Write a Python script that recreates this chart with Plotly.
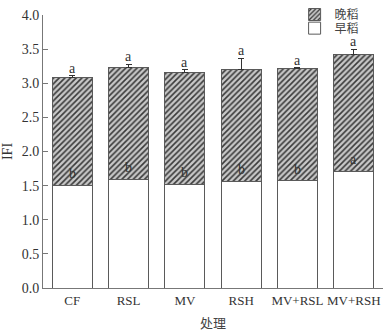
import plotly.graph_objects as go

categories = ["CF", "RSL", "MV", "RSH", "MV+RSL", "MV+RSH"]
early = [1.50, 1.59, 1.52, 1.56, 1.57, 1.70]
early_err = [0.04, 0.03, 0.04, 0.03, 0.03, 0.04]
late = [1.59, 1.64, 1.64, 1.64, 1.65, 1.72]
total_err = [0.02, 0.05, 0.04, 0.17, 0.01, 0.08]
early_letters = ["b", "b", "b", "b", "b", "a"]
total_letters = ["a", "a", "a", "a", "a", "a"]

serif = "Times New Roman, Liberation Serif, DejaVu Serif, serif"
cjk = "Noto Sans CJK SC"
edge = "#5a5a5a"

fig = go.Figure()
fig.add_trace(go.Bar(
    x=categories, y=early, name="早稻", legend="legend2",
    marker=dict(color="white", line=dict(color=edge, width=1)),
    error_y=dict(type="data", array=early_err, symmetric=False, arrayminus=[0]*6,
                 color="#333", thickness=1, width=3),
    width=0.71,
))
fig.add_trace(go.Bar(
    x=categories, y=late, name="晚稻", legend="legend",
    marker=dict(color="#c8c8c8", line=dict(color=edge, width=1),
                pattern=dict(shape="/", bgcolor="#c8c8c8", fgcolor="#3a3a3a",
                             size=4, solidity=0.4, fillmode="replace")),
    error_y=dict(type="data", array=total_err, symmetric=False, arrayminus=[0]*6,
                 color="#333", thickness=1, width=3),
    width=0.71,
))

for i, c in enumerate(categories):
    fig.add_annotation(x=c, y=early[i] + early_err[i], text=early_letters[i],
                       showarrow=False, yanchor="bottom", yshift=0,
                       font=dict(family=serif, size=14, color="#333"))
    fig.add_annotation(x=c, y=early[i] + late[i] + total_err[i], text=total_letters[i],
                       showarrow=False, yanchor="bottom", yshift=-2,
                       font=dict(family=serif, size=14, color="#333"))

legend_style = dict(xref="paper", x=0.74, xanchor="left", yref="container", yanchor="top",
                    font=dict(family=cjk, size=12, color="#444"),
                    bgcolor="rgba(0,0,0,0)", itemwidth=30)

fig.update_layout(
    barmode="stack",
    width=391, height=333,
    margin=dict(l=43, r=8, t=15, b=45, autoexpand=False),
    paper_bgcolor="white", plot_bgcolor="white",
    showlegend=True,
    legend=dict(y=1.007, **legend_style),
    legend2=dict(y=0.959, **legend_style),
    font=dict(family=serif, size=14, color="#333"),
    xaxis=dict(range=[-0.52, 5.52], showline=True, linecolor="#777", linewidth=1,
               ticks="", showgrid=False, zeroline=False, tickangle=0, automargin=False,
               tickfont=dict(family=serif, size=13, color="#333"),
               title=dict(text="处理", font=dict(family=cjk, size=13, color="#444"), standoff=12)),
    yaxis=dict(range=[0, 4], dtick=0.5, tickformat=".1f", showline=True, linecolor="#777",
               linewidth=1, ticks="inside", ticklen=5, tickcolor="#777", automargin=False,
               showgrid=False, zeroline=False,
               tickfont=dict(family=serif, size=14, color="#333"),
               title=dict(text="IFI", font=dict(family=serif, size=14, color="#333"), standoff=6)),
)

fig.write_html("out.html")
